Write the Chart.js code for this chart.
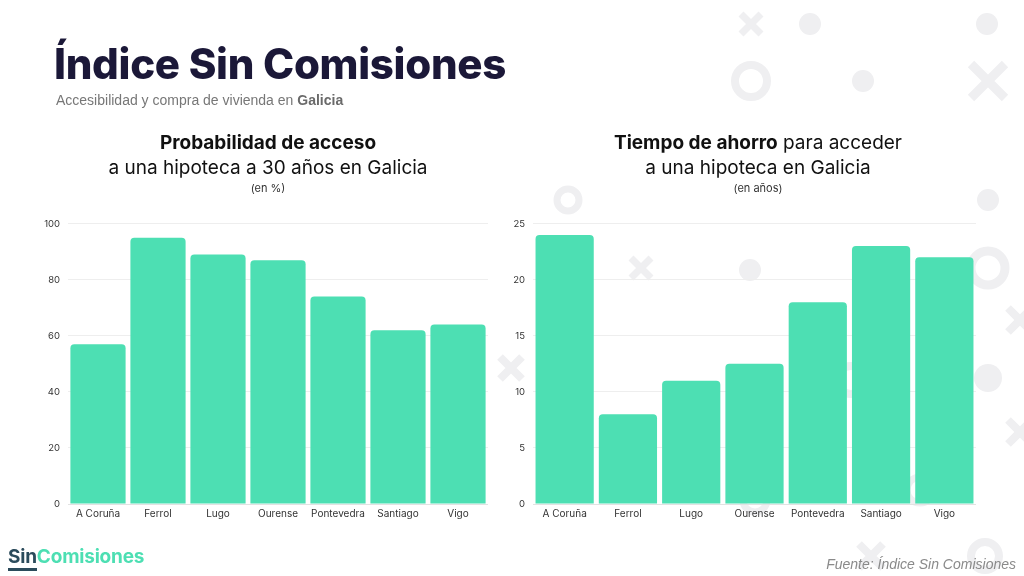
<!DOCTYPE html>
<html><head><meta charset="utf-8">
<script src="https://cdn.jsdelivr.net/npm/chart.js@4"></script>
<style>
html,body{margin:0;padding:0;background:#fff;}
#page{position:relative;width:1024px;height:576px;overflow:hidden;background:#fff;font-family:Inter, "Open Sans", sans-serif;}
#deco{position:absolute;left:0;top:0;}
.t{position:absolute;white-space:nowrap;}
#title{left:54px;top:38px;font-size:42px;font-weight:800;color:#1b1838;letter-spacing:-0.3px;font-family:Inter;}
#sub{left:56px;top:92px;font-size:14px;color:#777;font-family:"Liberation Sans",Arial,sans-serif;}
#sub b{color:#6a6a6a;}
.ct{position:absolute;text-align:center;color:#111;font-family:Inter;}
.l1{font-size:19px;line-height:25px;}
.l3{font-size:11px;line-height:16px;color:#333;}
.cw{position:absolute;}
#logo{left:8px;top:545px;font-size:19px;font-weight:700;font-family:Inter;letter-spacing:-0.2px;}
#logo .s{color:#2b4b5b;border-bottom:3px solid #2b4b5b;}
#logo .c{color:#4ddfb3;}
#src{right:8px;top:556px;font-size:14px;font-style:italic;color:#8a8a8a;font-family:"Liberation Sans",Arial,sans-serif;}
</style></head>
<body>
<div id="page">
<canvas id="deco" width="1024" height="576"></canvas>
<div class="t" id="title">Índice Sin Comisiones</div>
<div class="t" id="sub">Accesibilidad y compra de vivienda en <b>Galicia</b></div>

<div class="ct" style="left:68px;top:130px;width:400px;">
  <div class="l1" style="font-weight:700;">Probabilidad de acceso</div>
  <div class="l1">a una hipoteca a 30 años en Galicia</div>
  <div class="l3">(en %)</div>
</div>
<div class="ct" style="left:558px;top:130px;width:400px;">
  <div class="l1"><b>Tiempo de ahorro</b> para acceder</div>
  <div class="l1">a una hipoteca en Galicia</div>
  <div class="l3">(en años)</div>
</div>

<div class="cw" style="left:30px;top:210px;width:458px;height:314px;"><canvas id="c1"></canvas></div>
<div class="cw" style="left:495px;top:210px;width:481px;height:314px;"><canvas id="c2"></canvas></div>

<div class="t" id="logo"><span class="s">Sin</span><span class="c">Comisiones</span></div>
<div class="t" id="src">Fuente: Índice Sin Comisiones</div>
</div>
<script>
const categories = ["A Coruña","Ferrol","Lugo","Ourense","Pontevedra","Santiago","Vigo"];
const probabilidadAcceso = [57, 95, 89, 87, 74, 62, 64];
const tiempoAhorro = [24, 8, 11, 12.5, 18, 23, 22];
const ticksProb = [0, 20, 40, 60, 80, 100];
const ticksTiempo = [0, 5, 10, 15, 20, 25];

// background decorations
(function(){
  const ctx = document.getElementById('deco').getContext('2d');
  const col = '#efeff1';
  ctx.fillStyle = col; ctx.strokeStyle = col; ctx.lineCap = 'butt';
  function dot(x,y,r){ctx.beginPath();ctx.arc(x,y,r,0,Math.PI*2);ctx.fill();}
  function ring(x,y,r,w){ctx.lineWidth=w;ctx.beginPath();ctx.arc(x,y,r,0,Math.PI*2);ctx.stroke();}
  function cross(x,y,s,w){ctx.lineWidth=w;ctx.beginPath();ctx.moveTo(x-s,y-s);ctx.lineTo(x+s,y+s);ctx.moveTo(x+s,y-s);ctx.lineTo(x-s,y+s);ctx.stroke();}
  cross(751,24,10,7); dot(810,24,11); dot(987,24,11);
  ring(751,81,16,8); dot(863,81,11); cross(988,81,17,9);
  dot(988,200,11); ring(568,200,11,7);
  cross(641,268,10,7); dot(750,270,11); ring(988,268,17,9);
  cross(1020,320,12,8); cross(511,368,11,8); dot(988,378,14);
  cross(1020,432,12,8);
  ring(920,490,13,7); cross(871,556,12,8); ring(985,556,14,8);
  ring(851,380,14,8); ring(755,500,12,7);
})();

function makeChart(id, data, ticks, max){
  return new Chart(document.getElementById(id), {
    type:'bar',
    data:{labels:categories, datasets:[{data:data, backgroundColor:'#4ddfb3', borderRadius:{topLeft:4,topRight:4}, borderSkipped:'bottom', categoryPercentage:1, barPercentage:0.92}]},
    options:{
      responsive:true, maintainAspectRatio:false, animation:false,
      layout:{padding:0},
      plugins:{legend:{display:false}, tooltip:{enabled:false}},
      scales:{
        x:{grid:{display:false,drawTicks:false}, border:{display:true,color:'#e2e2e2',width:1},
           ticks:{color:'#333',font:{family:'Inter',size:10},padding:4}},
        y:{min:0,max:max, afterBuildTicks:(s)=>{s.ticks=ticks.map(v=>({value:v}));},
           afterFit:(s)=>{s.width=38;},
           grid:{color:'#eeeeee',drawTicks:false}, border:{display:false},
           ticks:{color:'#333',font:{family:'Inter',size:9.5},padding:8}}
      }
    }
  });
}
makeChart('c1', probabilidadAcceso, ticksProb, 100);
makeChart('c2', tiempoAhorro, ticksTiempo, 25);
</script>
</body></html>
